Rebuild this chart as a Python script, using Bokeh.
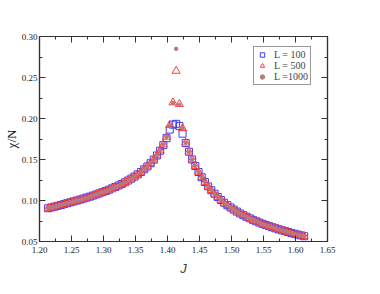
from bokeh.plotting import figure
from bokeh.models import (LinearAxis, FixedTicker, PrintfTickFormatter,
                          CustomJSTickFormatter, Range1d, Legend, LegendItem)
from bokeh.embed import file_html
from bokeh.resources import INLINE

J = [1.2135, 1.2185, 1.2235, 1.2285, 1.2335, 1.2385, 1.2435, 1.2485, 1.2535, 1.2585,
     1.2635, 1.2685, 1.2735, 1.2785, 1.2835, 1.2885, 1.2935, 1.2985, 1.3035, 1.3085,
     1.3135, 1.3185, 1.3235, 1.3285, 1.3335, 1.3385, 1.3435, 1.3485, 1.3535, 1.3585,
     1.3635, 1.3685, 1.3735, 1.3785, 1.3835, 1.3885, 1.3935, 1.3985, 1.4035, 1.4085,
     1.4135, 1.4185, 1.4235, 1.4285, 1.4335, 1.4385, 1.4435, 1.4485, 1.4535, 1.4585,
     1.4635, 1.4685, 1.4735, 1.4785, 1.4835, 1.4885, 1.4935, 1.4985, 1.5035, 1.5085,
     1.5135, 1.5185, 1.5235, 1.5285, 1.5335, 1.5385, 1.5435, 1.5485, 1.5535, 1.5585,
     1.5635, 1.5685, 1.5735, 1.5785, 1.5835, 1.5885, 1.5935, 1.5985, 1.6035, 1.6085,
     1.6135]

chi_L100 = [0.0905, 0.0915, 0.0925, 0.0935, 0.0945, 0.0956, 0.0967, 0.0978, 0.0989, 0.1000,
            0.1011, 0.1023, 0.1035, 0.1047, 0.1060, 0.1073, 0.1087, 0.1101, 0.1116, 0.1132,
            0.1148, 0.1165, 0.1183, 0.1202, 0.1222, 0.1244, 0.1267, 0.1292, 0.1319, 0.1348,
            0.1380, 0.1415, 0.1454, 0.1498, 0.1549, 0.1607, 0.1675, 0.1760, 0.1865, 0.1925,
            0.1935, 0.1910, 0.1815, 0.1700, 0.1595, 0.1500, 0.1420, 0.1348, 0.1283, 0.1225,
            0.1172, 0.1125, 0.1082, 0.1042, 0.1006, 0.0973, 0.0943, 0.0915, 0.0889, 0.0865,
            0.0842, 0.0821, 0.0801, 0.0782, 0.0764, 0.0747, 0.0731, 0.0716, 0.0701, 0.0687,
            0.0674, 0.0661, 0.0649, 0.0637, 0.0626, 0.0615, 0.0604, 0.0594, 0.0584, 0.0574,
            0.0564]

chi_L500 = [0.0905, 0.0915, 0.0925, 0.0935, 0.0945, 0.0956, 0.0967, 0.0978, 0.0989, 0.1000,
            0.1011, 0.1023, 0.1035, 0.1047, 0.1060, 0.1073, 0.1087, 0.1101, 0.1116, 0.1132,
            0.1148, 0.1165, 0.1183, 0.1202, 0.1222, 0.1244, 0.1267, 0.1292, 0.1319, 0.1348,
            0.1380, 0.1415, 0.1454, 0.1498, 0.1550, 0.1610, 0.1682, 0.1775, 0.1920, 0.2195,
            0.2580, 0.2175, 0.1880, 0.1705, 0.1595, 0.1500, 0.1420, 0.1348, 0.1283, 0.1225,
            0.1172, 0.1125, 0.1082, 0.1042, 0.1006, 0.0973, 0.0943, 0.0915, 0.0889, 0.0865,
            0.0842, 0.0821, 0.0801, 0.0782, 0.0764, 0.0747, 0.0731, 0.0716, 0.0701, 0.0687,
            0.0674, 0.0661, 0.0649, 0.0637, 0.0626, 0.0615, 0.0604, 0.0594, 0.0584, 0.0574,
            0.0564]

chi_L1000 = [0.0905, 0.0915, 0.0925, 0.0935, 0.0945, 0.0956, 0.0967, 0.0978, 0.0989, 0.1000,
             0.1011, 0.1023, 0.1035, 0.1047, 0.1060, 0.1073, 0.1087, 0.1101, 0.1116, 0.1132,
             0.1148, 0.1165, 0.1183, 0.1202, 0.1222, 0.1244, 0.1267, 0.1292, 0.1319, 0.1348,
             0.1380, 0.1415, 0.1454, 0.1498, 0.1550, 0.1610, 0.1682, 0.1775, 0.1915, 0.2190,
             0.2850, 0.2165, 0.1880, 0.1705, 0.1595, 0.1500, 0.1420, 0.1348, 0.1283, 0.1225,
             0.1172, 0.1125, 0.1082, 0.1042, 0.1006, 0.0973, 0.0943, 0.0915, 0.0889, 0.0865,
             0.0842, 0.0821, 0.0801, 0.0782, 0.0764, 0.0747, 0.0731, 0.0716, 0.0701, 0.0687,
             0.0674, 0.0661, 0.0649, 0.0637, 0.0626, 0.0615, 0.0604, 0.0594, 0.0584, 0.0574,
             0.0564]

x_ticks = [1.20, 1.25, 1.30, 1.35, 1.40, 1.45, 1.50, 1.55, 1.60, 1.65]
x_minor = [1.225, 1.275, 1.325, 1.375, 1.425, 1.475, 1.525, 1.575, 1.625]
y_ticks = [0.05, 0.10, 0.15, 0.20, 0.25, 0.30]
y_minor = [0.075, 0.125, 0.175, 0.225, 0.275]

legend_labels = ["L = 100", "L = 500", "L =1000"]

FONT = "Liberation Serif"
AX = "#333333"

p = figure(width=364, height=278, output_backend="svg", toolbar_location=None,
           x_range=Range1d(1.20, 1.65), y_range=Range1d(0.05, 0.30),
           min_border_left=10, min_border_right=37, min_border_top=36, min_border_bottom=37,
           x_axis_label="J", y_axis_label="χ/N")
p.grid.visible = False
p.outline_line_color = AX
p.outline_line_width = 1.2

def xt():
    return FixedTicker(ticks=x_ticks, minor_ticks=x_minor)

def yt():
    return FixedTicker(ticks=y_ticks, minor_ticks=y_minor)

p.xaxis.ticker = xt()
p.yaxis.ticker = yt()
p.xaxis.formatter = PrintfTickFormatter(format="%.2f")
p.yaxis.formatter = PrintfTickFormatter(format="%.2f")

blank = CustomJSTickFormatter(code="return '';")
top = LinearAxis(ticker=xt(), formatter=blank, major_label_standoff=0)
right = LinearAxis(ticker=yt(), formatter=blank, major_label_standoff=0)
p.add_layout(top, "above")
p.add_layout(right, "right")

for ax in p.axis:
    ax.axis_line_color = AX
    ax.axis_line_width = 1.2
    ax.major_tick_line_color = AX
    ax.minor_tick_line_color = AX
    ax.major_tick_in = 6
    ax.major_tick_out = 0
    ax.minor_tick_in = 3
    ax.minor_tick_out = 0
    ax.major_label_text_font = FONT
    ax.major_label_text_color = "#222222"
    ax.major_label_text_font_size = "9px"

for ax in (p.xaxis[0], p.yaxis[0]):
    ax.major_label_standoff = 3
    ax.axis_label_text_font = FONT
    ax.axis_label_text_font_style = "normal"
    ax.axis_label_text_font_size = "13px"
    ax.axis_label_text_color = "#111111"

p.xaxis[0].axis_label_standoff = 2
p.yaxis[0].axis_label_standoff = 0
p.yaxis[0].major_label_standoff = 2

r1 = p.scatter(J, chi_L100, marker="square", size=7, fill_color=None,
               line_color="#3a3aff", line_width=1)
r2 = p.scatter(J, chi_L500, marker="triangle", size=8, fill_color=None,
               line_color="#ff3a3a", line_width=1)
r3 = p.scatter(J, chi_L1000, marker="circle", size=3.5, fill_color="#b87878",
               line_color="#b87878")

legend = Legend(items=[LegendItem(label=legend_labels[0], renderers=[r1]),
                       LegendItem(label=legend_labels[1], renderers=[r2]),
                       LegendItem(label=legend_labels[2], renderers=[r3])],
                location=(214, 156))
legend.label_text_font = FONT
legend.label_text_font_size = "10px"
legend.label_height = 11
legend.glyph_height = 11
legend.glyph_width = 12
legend.label_standoff = 6
legend.padding = 2
legend.margin = 0
legend.spacing = 0
legend.border_line_color = "#333333"
legend.border_line_width = 1
legend.background_fill_alpha = 1
p.add_layout(legend, "center")

open("out.html", "w").write(file_html(p, INLINE))
